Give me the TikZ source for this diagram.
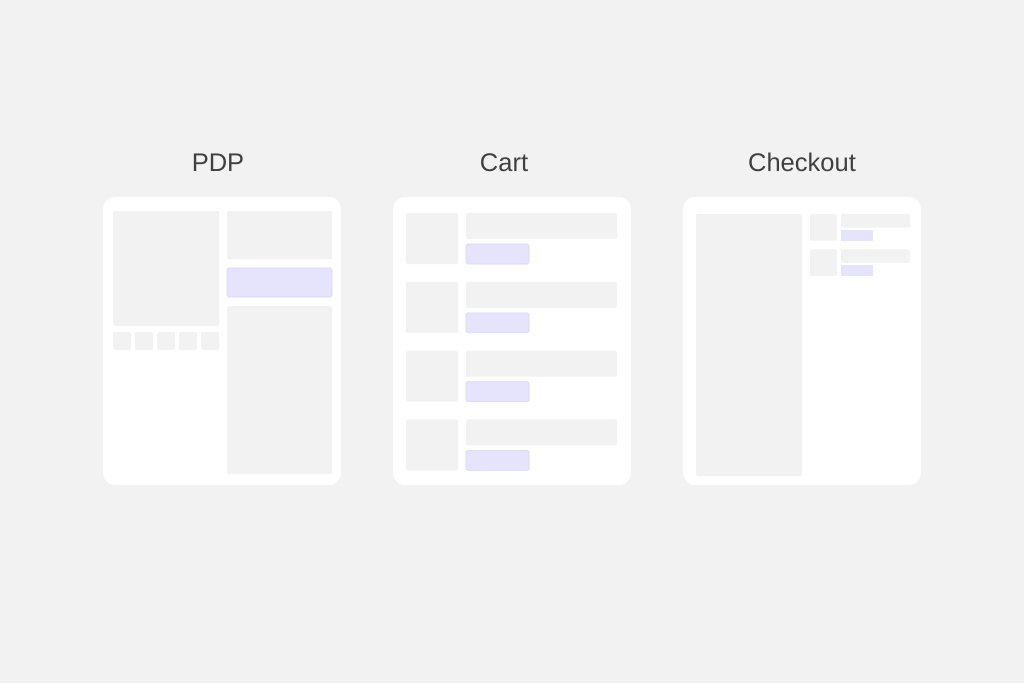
\documentclass[tikz,border=0pt]{standalone}
\usepackage{fontspec}
\setmainfont{Liberation Sans}
\definecolor{bgc}{HTML}{F2F2F2}
\definecolor{boxc}{HTML}{F2F2F2}
\definecolor{btnc}{HTML}{E6E3FD}
\definecolor{btnb}{HTML}{D9D4F7}
\definecolor{txtc}{HTML}{404040}
\tikzset{
  card/.style={fill=white, rounded corners=12pt},
  blk/.style={fill=boxc, rounded corners=1.5pt},
  btn/.style={fill=btnc, draw=btnb, line width=0.6pt, rounded corners=1.5pt},
  ttl/.style={text=txtc, font=\fontsize{25.5}{30}\selectfont, anchor=base, inner sep=0pt}
}
\begin{document}
\begin{tikzpicture}[x=1pt,y=-1pt]
\fill[bgc] (0,0) rectangle (1024,683);
\useasboundingbox (0,0) rectangle (1024,683);
% titles
\node[ttl] (t1) at (218,171) {PDP};
\node[ttl] (t2) at (504,171) {Cart};
\node[ttl] (t3) at (802,171) {Checkout};
% cards
\fill[card] (103,197) rectangle (341,485);
\fill[card] (393,197) rectangle (631,485);
\fill[card] (683,197) rectangle (921,485);
% PDP
\fill[blk] (113,211) rectangle (219,326);
\foreach \i in {0,...,4} {
  \fill[blk] (113+22*\i,332) rectangle (131+22*\i,350);
}
\fill[blk] (227,211) rectangle (332,259);
\filldraw[btn] (227,268) rectangle (332,297);
\fill[blk] (227,306) rectangle (332,474);
% Cart
\foreach \i in {0,...,3} {
  \pgfmathsetmacro{\yo}{213+68.8*\i}
  \fill[blk] (406,\yo) rectangle (458,\yo+51);
  \fill[blk] (466,\yo) rectangle (617,\yo+26);
  \filldraw[btn] (466,\yo+31) rectangle (529,\yo+51);
}
% Checkout
\fill[blk] (696,214) rectangle (802,476);
\foreach \i in {0,1} {
  \pgfmathsetmacro{\yo}{214+35.3*\i}
  \fill[blk] (810,\yo) rectangle (837,\yo+26.5);
  \fill[blk] (841,\yo) rectangle (910,\yo+13.5);
  \fill[btnc] (841,\yo+15.5) rectangle (873,\yo+26.5);
}
\end{tikzpicture}
\end{document}
